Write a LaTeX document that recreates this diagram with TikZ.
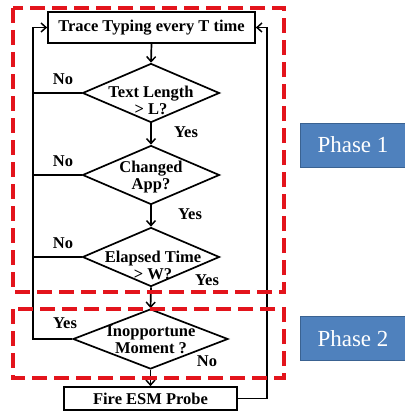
\documentclass[tikz,border=0pt]{standalone}
\usepackage{fontspec}
\setmainfont{Liberation Serif}
\usetikzlibrary{shapes.geometric,arrows.meta}
\definecolor{dashred}{HTML}{E3141C}
\definecolor{phasefill}{HTML}{4F81BD}
\definecolor{phaseline}{HTML}{3A6291}
\begin{document}
\begin{tikzpicture}[x=1pt,y=-1pt,
  txt/.style={font=\fontsize{16.5}{19}\selectfont\bfseries},
  procbox/.style={draw,line width=1.7pt,inner sep=0pt,txt},
  decision/.style={draw,diamond,line width=1.7pt,inner sep=0pt,minimum width=137pt,minimum height=59pt},
  dtext/.style={txt,align=center,inner sep=0pt},
  flow/.style={line width=1.7pt,-{Straight Barb[length=5pt,width=9pt,line width=1.5pt]}},
  link/.style={line width=1.7pt},
  lbl/.style={txt,inner sep=0pt},
  phasezone/.style={draw=dashred,line width=4pt,dash pattern=on 15pt off 7pt},
  phasebox/.style={draw=phaseline,fill=phasefill,line width=0.8pt,text=white,font=\fontsize{23}{26}\selectfont,inner sep=0pt,minimum width=106pt,minimum height=44pt}
]
\useasboundingbox (0,0) rectangle (404,412);
\fill[white] (0,0) rectangle (404,412);

% nodes
\node[procbox,minimum width=207pt,minimum height=31pt] (trace) at (151.5,27.5) {Trace Typing every T time};
\node[decision] (d1) at (151,93) {};
\node[dtext] (d1t) at (151,100) {Text Length\\[-2pt]{>} L?};
\node[decision] (d2) at (151,175) {};
\node[dtext] (d2t) at (151,177) {Changed\\[-2pt]App?};
\node[decision] (d3) at (151,257) {};
\node[dtext] (d3t) at (153,265) {Elapsed Time\\[-2pt]{>} W?};
\node[decision,minimum width=155pt,minimum height=60pt] (d4) at (150.5,339) {};
\node[dtext] (d4t) at (151,340) {Inopportune\\[-2pt]Moment ?};
\node[procbox,minimum width=173pt,minimum height=23pt] (fire) at (150.5,398.5) {Fire ESM Probe};

% loop corners
\coordinate (lt) at (33,27.5);
\coordinate (rt) at (267,27.5);

% main flow
\draw[flow] (trace.south) -- (d1.north);
\draw[flow] (d1.south) -- (d2.north);
\draw[flow] (d2.south) -- (d3.north);
\draw[flow] (d3.south) -- (d4.north);
\draw[flow] (d4.south) -- (fire.north);

% left loop
\draw[link] (d4.west) -| (lt);
\draw[link] (d1.west) -- (d1.west -| lt);
\draw[link] (d2.west) -- (d2.west -| lt);
\draw[link] (d3.west) -- (d3.west -| lt);
\draw[flow] (lt) -- (trace.west);
% right loop
\draw[link] (fire.east) -| (rt);
\draw[flow] (rt) -- (trace.east);

% labels
\node[lbl] (n1) at (63,79) {No};
\node[lbl] (y1) at (186,132) {Yes};
\node[lbl] (n2) at (63,161) {No};
\node[lbl] (y2) at (190,214) {Yes};
\node[lbl] (n3) at (63,243) {No};
\node[lbl] (y3) at (207,280) {Yes};
\node[lbl] (y4) at (65,323) {Yes};
\node[lbl] (n4) at (207,361) {No};

% phase zones
\draw[phasezone] (13,8) rectangle (284,292);
\draw[phasezone] (13,309) rectangle (284,378);

% phase boxes
\node[phasebox] (p1) at (353,145) {Phase 1};
\node[phasebox] (p2) at (353,338.5) {Phase 2};
\end{tikzpicture}
\end{document}
